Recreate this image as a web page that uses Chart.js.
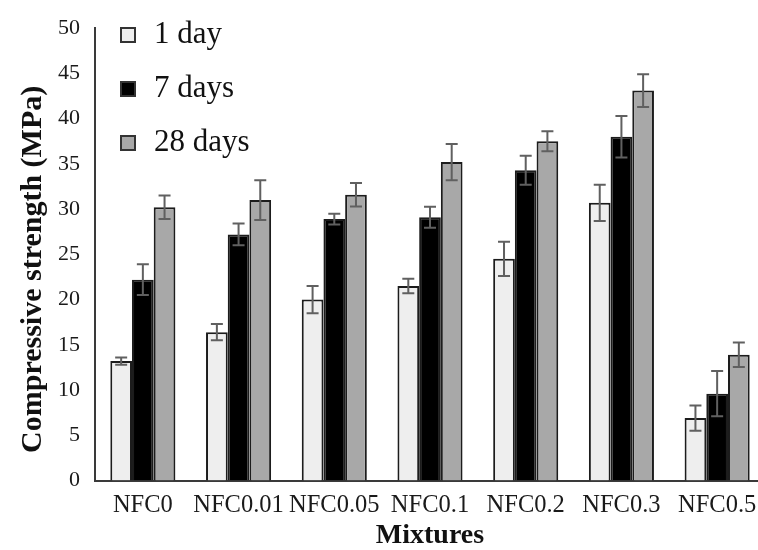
<!DOCTYPE html>
<html>
<head>
<meta charset="utf-8">
<script src="https://cdn.jsdelivr.net/npm/chart.js@4/dist/chart.umd.min.js"></script>
<style>
  html, body { margin: 0; padding: 0; background: #ffffff; overflow: hidden; }
  #wrap { position: absolute; left: 0; top: 0; width: 775px; height: 550px; }
</style>
</head>
<body>
<div id="wrap"><canvas id="c" width="775" height="550"></canvas></div>
<script>
// Compressive strength of the mixtures at three curing ages
const mixtures = ['NFC0', 'NFC0.01', 'NFC0.05', 'NFC0.1', 'NFC0.2', 'NFC0.3', 'NFC0.5'];
const seriesNames = ['1 day', '7 days', '28 days'];
const strength1d  = [13.2, 16.4, 20.0, 21.5, 24.5, 30.7, 6.9];
const strength7d  = [22.2, 27.2, 28.9, 29.1, 34.3, 38.0, 9.6];
const strength28d = [30.2, 31.0, 31.6, 35.2, 37.5, 43.1, 13.9];
const sd1d  = [0.4, 0.9, 1.5, 0.8, 1.9, 2.0, 1.4];
const sd7d  = [1.7, 1.2, 0.6, 1.15, 1.6, 2.3, 2.5];
const sd28d = [1.3, 2.2, 1.3, 2.0, 1.1, 1.8, 1.35];
const yTicks = [0, 5, 10, 15, 20, 25, 30, 35, 40, 45, 50];

const SERIF = "'Liberation Serif', 'Times New Roman', serif";
const fills = ['#eeeeee', '#000000', '#a8a8a8'];

// Error bars drawn from each dataset's "errors" array through the y scale
const errorBars = {
  id: 'errorBars',
  afterDatasetsDraw(chart) {
    const ctx = chart.ctx;
    const y = chart.scales.y;
    ctx.save();
    ctx.strokeStyle = '#606060';
    ctx.lineWidth = 2;
    chart.data.datasets.forEach((ds, di) => {
      const meta = chart.getDatasetMeta(di);
      meta.data.forEach((bar, i) => {
        const v = ds.data[i], e = ds.errors[i];
        const yTop = y.getPixelForValue(v + e);
        const yBot = y.getPixelForValue(v - e);
        const cap = 6;
        ctx.beginPath();
        ctx.moveTo(bar.x, yTop); ctx.lineTo(bar.x, yBot);
        ctx.moveTo(bar.x - cap, yTop); ctx.lineTo(bar.x + cap, yTop);
        ctx.moveTo(bar.x - cap, yBot); ctx.lineTo(bar.x + cap, yBot);
        ctx.stroke();
      });
    });
    ctx.restore();
  }
};

// Vertical legend in the upper-left corner of the plot
const sideLegend = {
  id: 'sideLegend',
  afterDraw(chart) {
    const ctx = chart.ctx;
    ctx.save();
    ctx.font = '31px ' + SERIF;
    ctx.textBaseline = 'alphabetic';
    ctx.textAlign = 'left';
    chart.data.datasets.forEach((ds, i) => {
      const base = 43 + i * 54;
      ctx.fillStyle = ds.backgroundColor;
      ctx.fillRect(120, base - 16, 16, 16);
      ctx.strokeStyle = '#333333';
      ctx.lineWidth = 2;
      ctx.strokeRect(121, base - 15, 14, 14);
      ctx.fillStyle = '#111111';
      ctx.fillText(ds.label, 154, base);
    });
    ctx.restore();
  }
};

const series = [strength1d, strength7d, strength28d];
const errs = [sd1d, sd7d, sd28d];

new Chart(document.getElementById('c'), {
  type: 'bar',
  data: {
    labels: mixtures,
    datasets: seriesNames.map((name, i) => ({
      label: name,
      data: series[i],
      errors: errs[i],
      backgroundColor: fills[i],
      borderColor: '#1c1c1c',
      borderWidth: 2,
      borderSkipped: 'start',
      categoryPercentage: 0.68,
      barPercentage: 1.0
    }))
  },
  options: {
    responsive: false,
    animation: false,
    devicePixelRatio: 1,
    layout: { padding: { left: 0, right: 10, top: 24, bottom: 0 } },
    plugins: {
      legend: { display: false },
      tooltip: { enabled: false }
    },
    scales: {
      x: {
        grid: { display: false, drawTicks: false },
        border: { display: true, color: '#3a3a3a', width: 2 },
        ticks: {
          color: '#1a1a1a',
          font: { family: SERIF, size: 24.5 },
          padding: 10,
          maxRotation: 0,
          autoSkip: false
        },
        title: {
          display: true,
          text: 'Mixtures',
          color: '#111111',
          font: { family: SERIF, size: 28, weight: 'bold', lineHeight: 1.0 },
          padding: { top: 0, bottom: 0 }
        },
        afterFit(scale) { scale.height = 69.5; }
      },
      y: {
        min: 0,
        max: 50,
        afterBuildTicks(scale) { scale.ticks = yTicks.map(v => ({ value: v })); },
        grid: { display: false, drawTicks: false },
        border: { display: true, color: '#3a3a3a', width: 2 },
        ticks: {
          color: '#1a1a1a',
          font: { family: SERIF, size: 22 },
          padding: 15
        },
        title: {
          display: true,
          text: 'Compressive strength (MPa)\u00a0\u00a0\u00a0\u00a0',
          color: '#111111',
          font: { family: SERIF, size: 30, weight: 'bold', lineHeight: 1.2 },
          padding: { top: 15, bottom: 0 }
        },
        afterFit(scale) { scale.width = 95; }
      }
    }
  },
  plugins: [errorBars, sideLegend]
});
</script>
</body>
</html>
